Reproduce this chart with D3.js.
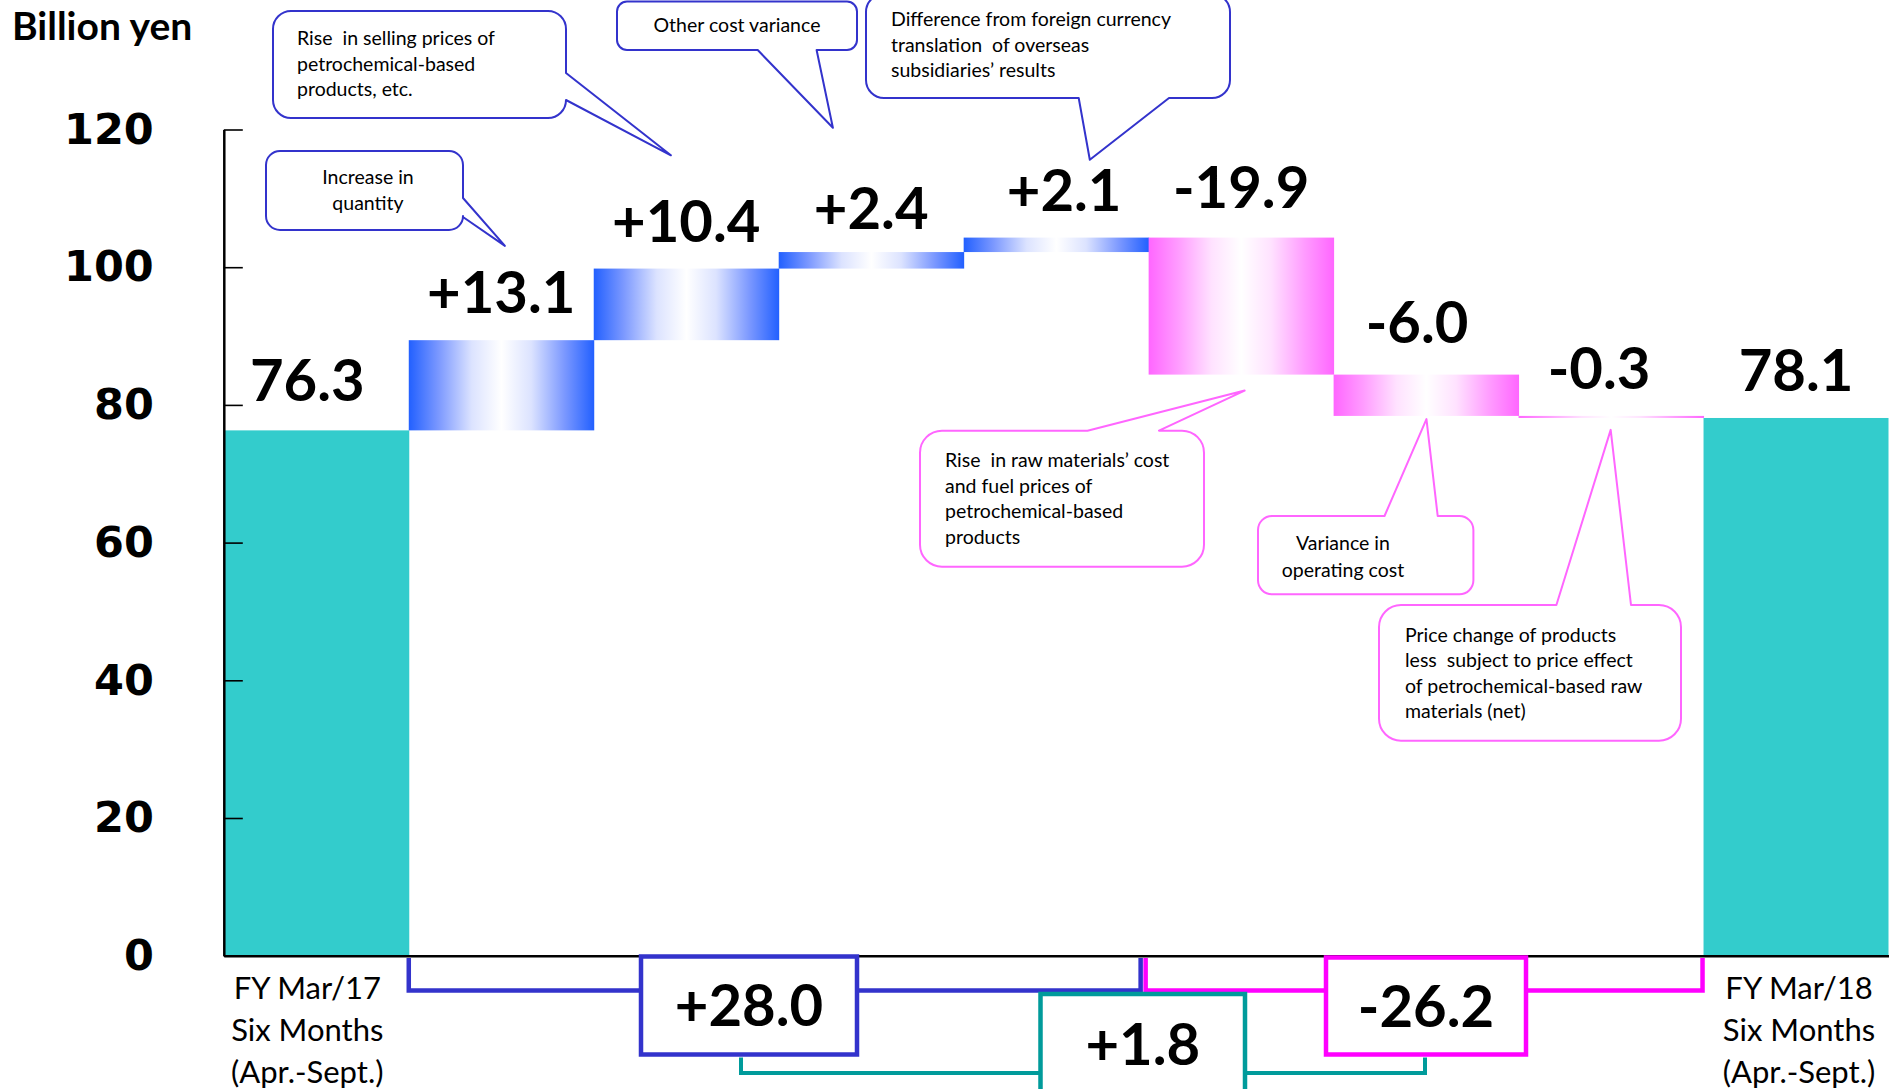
<!DOCTYPE html>
<html>
<head>
<meta charset="utf-8">
<script src="https://cdn.jsdelivr.net/npm/d3@7"></script>
<style>
  html, body { margin: 0; padding: 0; background: #ffffff; }
  svg { display: block; }
  text { font-family: Lato, "Open Sans", "DejaVu Sans", sans-serif; }
  .note text { white-space: pre; }
</style>
</head>
<body>
<svg id="chart" width="1897" height="1089"></svg>
<script>
// ---- Operating income bridge (billion yen) ----
const startLabel = ["FY Mar/17", "Six Months", "(Apr.-Sept.)"];
const endLabel   = ["FY Mar/18", "Six Months", "(Apr.-Sept.)"];
const startValue = 76.3;
const endValue   = 78.1;

const steps = [
  "Increase in quantity",
  "Rise in selling prices",
  "Other cost variance",
  "Foreign currency translation",
  "Raw materials and fuel",
  "Operating cost",
  "Less price-sensitive products"
];
const changes = [13.1, 10.4, 2.4, 2.1, -19.9, -6.0, -0.3];

const yTicks = [0, 20, 40, 60, 80, 100, 120];

const noteText = [
  ["Increase in", "quantity"],
  ["Rise  in selling prices of", "petrochemical-based", "products, etc."],
  ["Other cost variance"],
  ["Difference from foreign currency", "translation  of overseas", "subsidiaries\u2019 results"],
  ["Rise  in raw materials\u2019 cost", "and fuel prices of", "petrochemical-based", "products"],
  ["Variance in", "operating cost"],
  ["Price change of products", "less  subject to price effect", "of petrochemical-based raw", "materials (net)"]
];

// ---- layout ----
const W = 1897, H = 1089;
const plotLeft = 223.8, plotRight = 1888.5;
const plotBottom = 955.7, plotTop = 129.5;

const BLUE_LINE = "#3333cc", PINK_LINE = "#ff00ff", TEAL_LINE = "#009b9b";
const NOTE_BLUE = "#3333cc", NOTE_PINK = "#ff66ff";
const TOTAL_FILL = "#33cccc";

// per-bar value label offsets [dx, dy] in px
const labelNudge = [[-9, -2], [0, 0], [0, 0], [0, 4], [8, 0], [0, -3], [-9, -5], [-12, 0], [0, 0]];

// callout geometry: box [x, y, w, h], tail side, tail base, tip anchored to a bar band and a value
const calloutLayout = [
  { box: [266, 151, 197, 79],      r: 14, side: "right",  base: [198, 217],       tip: { i: 1, f: 0.52,  v: 103.1 },  anchor: "middle", tx: 368,  ty: 184, lh: 26 },
  { box: [273, 11, 293, 107],      r: 18, side: "right",  base: [73, 100],        tip: { i: 2, f: 0.417, v: 116.25 }, anchor: "start",  tx: 297,  ty: 45,  lh: 25.5 },
  { box: [617, 1.5, 240, 48.5],    r: 10, side: "bottom", base: [757.7, 816.6],   tip: { i: 3, f: 0.293, v: 120.25 }, anchor: "middle", tx: 737,  ty: 32,  lh: 26 },
  { box: [866, -6, 364, 104],      r: 18, side: "bottom", base: [1078.7, 1169],   tip: { i: 4, f: 0.682, v: 115.6 },  anchor: "start",  tx: 891,  ty: 26,  lh: 25.5 },
  { box: [920, 430.7, 284, 136],   r: 22, side: "top",    base: [1087.5, 1159],   tip: { i: 5, f: 0.519, v: 82.08 },  anchor: "start",  tx: 945,  ty: 467, lh: 25.5 },
  { box: [1258, 516, 215.4, 78.3], r: 14, side: "top",    base: [1384.5, 1437.7], tip: { i: 6, f: 0.502, v: 77.93 },  anchor: "middle", tx: 1343, ty: 550, lh: 27 },
  { box: [1379, 605, 302, 135.7],  r: 22, side: "top",    base: [1556.4, 1631],   tip: { i: 7, f: 0.498, v: 76.37 },  anchor: "start",  tx: 1405, ty: 642, lh: 25.3 }
];

const svg = d3.select("#chart");

// ---- scales ----
const nBars = changes.length + 2;
const x = d3.scaleBand().domain(d3.range(nBars)).range([plotLeft, plotRight]).padding(0);
const y = d3.scaleLinear().domain([0, 120]).range([plotBottom, plotTop]);
const bw = x.bandwidth();

// ---- waterfall records ----
let running = startValue;
const bars = [{ i: 0, y0: 0, y1: startValue, kind: "total", value: startValue }];
changes.forEach((c, k) => {
  bars.push({ i: k + 1, y0: running, y1: running + c, kind: c >= 0 ? "up" : "down", value: c, name: steps[k] });
  running += c;
});
bars.push({ i: nBars - 1, y0: 0, y1: endValue, kind: "total", value: endValue });

const fmtTotal = v => v.toFixed(1);
const fmtChange = v => (v >= 0 ? "+" : "-") + Math.abs(v).toFixed(1);

// ---- gradients ----
const defs = svg.append("defs");
function hGradient(id, stops) {
  const g = defs.append("linearGradient").attr("id", id)
    .attr("x1", "0").attr("x2", "1").attr("y1", "0").attr("y2", "0");
  stops.forEach(([o, c]) => g.append("stop").attr("offset", o).attr("stop-color", c));
}
hGradient("gradUp", [
  [0, "#2260ff"], [0.16, "#7b98ff"], [0.34, "#dce3ff"], [0.5, "#ffffff"],
  [0.66, "#dce3ff"], [0.84, "#7b98ff"], [1, "#2260ff"]
]);
hGradient("gradDown", [
  [0, "#ff66ff"], [0.16, "#ff9cff"], [0.34, "#ffe2ff"], [0.5, "#ffffff"],
  [0.66, "#ffe2ff"], [0.84, "#ff9cff"], [1, "#ff66ff"]
]);

// ---- bars ----
svg.append("g").selectAll("rect").data(bars).join("rect")
  .attr("x", d => x(d.i))
  .attr("width", d => bw + (d.i < nBars - 1 ? 0.5 : 0))
  .attr("y", d => y(Math.max(d.y0, d.y1)))
  .attr("height", d => Math.abs(y(d.y0) - y(d.y1)))
  .attr("fill", d => d.kind === "total" ? TOTAL_FILL : d.kind === "up" ? "url(#gradUp)" : "url(#gradDown)");

// ---- axes ----
const yAxis = d3.axisLeft(y).tickValues(yTicks).tickSize(-19).tickSizeOuter(0).tickPadding(70)
  .tickFormat(d3.format("d"));
const gy = svg.append("g").attr("transform", `translate(${plotLeft},0)`).call(yAxis);
gy.select(".domain").attr("stroke", "#000").attr("stroke-width", 2.5);
gy.selectAll(".tick line").attr("stroke", "#000").attr("stroke-width", 1.6);
gy.selectAll(".tick text")
  .attr("fill", "#000")
  .style("font-family", "'DejaVu Sans', Verdana, sans-serif")
  .style("font-weight", "bold")
  .style("font-size", "43px");

const xAxis = d3.axisBottom(x).tickValues([]).tickSizeOuter(0);
const gx = svg.append("g").attr("transform", `translate(0,${y(0)})`).call(xAxis);
gx.select(".domain").attr("stroke", "#000").attr("stroke-width", 2.5);

// unit label
svg.append("text").attr("x", 12).attr("y", 40)
  .style("font-weight", "bold").style("font-size", "39px").attr("fill", "#000")
  .text("Billion yen");

// ---- callouts ----
function calloutPath(c) {
  const [bx, by, w, h] = c.box, r = c.r;
  const tx = x(c.tip.i) + bw * c.tip.f, ty = y(c.tip.v);
  const [a0, a1] = c.base;
  let p = `M${bx + r},${by}`;
  if (c.side === "top") p += `H${a0}L${tx},${ty}L${a1},${by}`;
  p += `H${bx + w - r}A${r},${r} 0 0 1 ${bx + w},${by + r}`;
  if (c.side === "right") p += `V${a0}L${tx},${ty}L${bx + w},${a1}`;
  p += `V${by + h - r}A${r},${r} 0 0 1 ${bx + w - r},${by + h}`;
  if (c.side === "bottom") p += `H${a1}L${tx},${ty}L${a0},${by + h}`;
  p += `H${bx + r}A${r},${r} 0 0 1 ${bx},${by + h - r}`;
  p += `V${by + r}A${r},${r} 0 0 1 ${bx + r},${by}Z`;
  return p;
}

const notes = svg.append("g").selectAll("g.note").data(calloutLayout).join("g").attr("class", "note");
notes.append("path")
  .attr("d", calloutPath)
  .attr("fill", "#fff")
  .attr("stroke", c => changes[c.tip.i - 1] >= 0 ? NOTE_BLUE : NOTE_PINK)
  .attr("stroke-width", 2)
  .attr("stroke-linejoin", "round");
notes.each(function (c, k) {
  const t = d3.select(this).append("text")
    .attr("text-anchor", c.anchor)
    .style("font-size", "19.5px").attr("fill", "#000");
  noteText[k].forEach((line, j) => {
    t.append("tspan").attr("x", c.tx).attr("y", c.ty + j * c.lh).text(line);
  });
});

// ---- value labels ----
const labelGap = 27;
svg.append("g").selectAll("text").data(bars).join("text")
  .attr("x", d => x(d.i) + bw / 2 + labelNudge[d.i][0])
  .attr("y", d => y(Math.max(d.y0, d.y1)) - labelGap + labelNudge[d.i][1])
  .attr("text-anchor", "middle")
  .style("font-weight", "bold").style("font-size", "58px").attr("fill", "#000")
  .text(d => d.kind === "total" ? fmtTotal(d.value) : fmtChange(d.value));

// ---- category labels ----
[[0, startLabel, -9], [nBars - 1, endLabel, 3]].forEach(([i, lines, dx]) => {
  const t = svg.append("text").attr("text-anchor", "middle")
    .style("font-size", "31px").attr("fill", "#000");
  lines.forEach((line, j) => {
    t.append("tspan").attr("x", x(i) + bw / 2 + dx).attr("y", 999 + j * 42).text(line);
  });
});

// ---- subtotal brackets ----
const gainSum = d3.sum(changes.filter(v => v > 0));
const lossSum = d3.sum(changes.filter(v => v < 0));
const netSum = gainSum + lossSum;
const firstLoss = changes.findIndex(v => v < 0) + 1;

const brkTop = 958, brkY = 990.5, sw = 4.5;
const gB = svg.append("g").attr("fill", "none").attr("stroke-width", sw);

// gains bracket
const gainL = x(1), gainR = x(firstLoss - 1) + bw - 8;
gB.append("path").attr("stroke", BLUE_LINE)
  .attr("d", `M${gainL},${brkTop}V${brkY}H${gainR}V${brkTop}`);
// losses bracket
const lossL = x(firstLoss) - 3, lossR = x(nBars - 2) + bw - 1;
gB.append("path").attr("stroke", PINK_LINE)
  .attr("d", `M${lossL},${brkTop}V${brkY}H${lossR}V${brkTop}`);

const gainBox = { x: 641, y: 956.5, w: 216, h: 98, c: BLUE_LINE };
const lossBox = { x: 1326, y: 957.5, w: 200, h: 97, c: PINK_LINE };
const netBox  = { x: 1040.5, y: 994, w: 204.5, h: 110, c: TEAL_LINE };

// net bracket joins the two subtotal boxes
const netL = gainBox.x + gainBox.w / 2 - 8, netR = lossBox.x + lossBox.w / 2 - 1;
gB.append("path").attr("stroke", TEAL_LINE).attr("stroke-width", 4)
  .attr("d", `M${netL},${gainBox.y + gainBox.h + 3}V1073H${netR}V${lossBox.y + lossBox.h + 3}`);

[[gainBox, gainSum, 1026], [lossBox, lossSum, 1027], [netBox, netSum, 1065]].forEach(([b, v, base]) => {
  svg.append("rect").attr("x", b.x).attr("y", b.y).attr("width", b.w).attr("height", b.h)
    .attr("fill", "#fff").attr("stroke", b.c).attr("stroke-width", sw);
  svg.append("text").attr("x", b.x + b.w / 2).attr("y", base).attr("text-anchor", "middle")
    .style("font-weight", "bold").style("font-size", "58px").attr("fill", "#000")
    .text(fmtChange(v));
});
</script>
</body>
</html>
